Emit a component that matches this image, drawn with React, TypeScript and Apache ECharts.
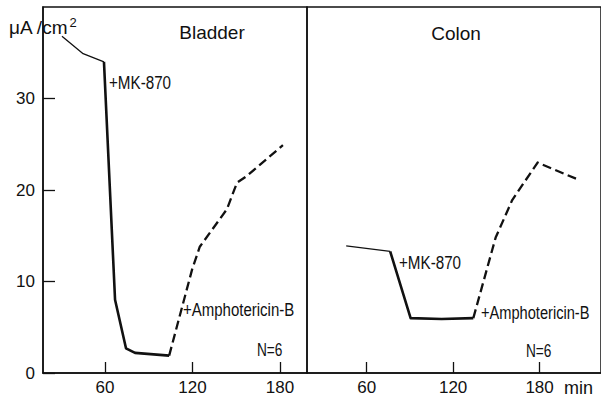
import React, { useEffect, useRef } from "react";
import * as echarts from "echarts";

// Bladder (left panel): [time min, µA/cm²]
const bladderBaseline = [[30.5, 36.8], [45, 34.9], [59.3, 34.0]];
const bladderMK870 = [[59.3, 34.0], [66.9, 8.0], [74.4, 2.7], [80.6, 2.2], [104, 1.9]];
const bladderAmphotericin = [[104, 1.9], [119.7, 11.3], [125, 13.8], [143.6, 17.9], [150.5, 20.8], [157, 21.5], [182, 24.9]];

// Colon (right panel)
const colonBaseline = [[45.8, 13.9], [76.3, 13.3]];
const colonMK870 = [[76.3, 13.3], [90.5, 6.0], [112, 5.9], [134, 6.0]];
const colonAmphotericin = [[134, 6.0], [149.5, 14.8], [161, 18.9], [178.6, 23.0], [205.8, 21.2]];

const xTickValues = [60, 120, 180];
const yTickValues = [0, 10, 20, 30];
const panelTitles = ["Bladder", "Colon"];

const INK = "#111";
const REG = "'Liberation Sans', Arial, sans-serif";

export default function App() {
  const ref = useRef<HTMLDivElement>(null);
  useEffect(() => {
    if (!ref.current) return;
    const chart = echarts.init(ref.current, null, { renderer: "svg" });
    const xAxisCommon = (min: number, max: number, gridIndex: number) => ({
      type: "value",
      gridIndex,
      min,
      max,
      axisLine: { show: true, lineStyle: { color: INK, width: 1.5 } },
      axisTick: { show: true, inside: true, length: 11, customValues: xTickValues, lineStyle: { color: INK, width: 1.3 } },
      axisLabel: { show: true, customValues: xTickValues, color: INK, fontSize: 17, fontFamily: REG, margin: 6 },
      splitLine: { show: false },
    });
    const lineSeries = (data: number[][], idx: number, width: number, dashed: boolean) => ({
      type: "line",
      xAxisIndex: idx,
      yAxisIndex: idx,
      data,
      symbol: "none",
      silent: true,
      lineStyle: { color: INK, width, type: dashed ? [9, 4.5] : "solid", cap: "butt", join: "round" },
    });
    const narrowText = (text: string, x: number, y: number, size: number, sx: number) => ({
      type: "text",
      x,
      y,
      scaleX: sx,
      style: { text, fill: INK, fontSize: size, fontFamily: REG, textVerticalAlign: "middle" },
    });
    chart.setOption({
      animation: false,
      backgroundColor: "#fff",
      grid: [
        { left: 43, top: 7, width: 264, height: 366, show: true, borderColor: INK, borderWidth: 1.5, backgroundColor: "transparent" },
        { left: 307, top: 7, width: 300, height: 366, show: true, borderColor: INK, borderWidth: 1.5, backgroundColor: "transparent" },
      ],
      xAxis: [xAxisCommon(17.5, 198.5, 0), xAxisCommon(18.6, 222.6, 1)],
      yAxis: [
        {
          type: "value",
          gridIndex: 0,
          min: 0,
          max: 40,
          axisLine: { show: true, lineStyle: { color: INK, width: 1.5 } },
          axisTick: { show: true, inside: true, length: 12, customValues: yTickValues, lineStyle: { color: INK, width: 1.3 } },
          axisLabel: { show: true, customValues: yTickValues, color: INK, fontSize: 17, fontFamily: REG, margin: 8 },
          splitLine: { show: false },
        },
        { type: "value", gridIndex: 1, min: 0, max: 40, show: false, splitLine: { show: false } },
      ],
      series: [
        lineSeries(bladderBaseline, 0, 1.3, false),
        lineSeries(bladderMK870, 0, 2.6, false),
        lineSeries(bladderAmphotericin, 0, 2.3, true),
        lineSeries(colonBaseline, 1, 1.3, false),
        lineSeries(colonMK870, 1, 2.6, false),
        lineSeries(colonAmphotericin, 1, 2.3, true),
      ],
      graphic: [
        {
          type: "text",
          x: 9,
          y: 27,
          style: {
            text: "{a|μA /cm}{s|2}",
            textVerticalAlign: "middle",
            rich: {
              a: { fontSize: 19, fontFamily: REG, fill: INK, color: INK },
              s: { fontSize: 13, fontFamily: REG, fill: INK, color: INK, verticalAlign: "top", padding: [0, 0, 10, 1] },
            },
          },
        },
        { type: "text", x: 212, y: 32, style: { text: panelTitles[0], fill: INK, fontSize: 19, fontFamily: REG, textAlign: "center", textVerticalAlign: "middle" } },
        { type: "text", x: 456, y: 33, style: { text: panelTitles[1], fill: INK, fontSize: 19, fontFamily: REG, textAlign: "center", textVerticalAlign: "middle" } },
        narrowText("+MK-870", 109, 82, 19, 0.8),
        narrowText("+Amphotericin-B", 183, 310, 19, 0.79),
        narrowText("N=6", 257, 350, 18, 0.76),
        narrowText("+MK-870", 399, 262, 19, 0.8),
        narrowText("+Amphotericin-B", 481, 313, 19, 0.77),
        narrowText("N=6", 526, 351, 18, 0.76),
        { type: "text", x: 564, y: 388, style: { text: "min", fill: INK, fontSize: 18, fontFamily: REG, textVerticalAlign: "middle" } },
      ],
    });
    return () => chart.dispose();
  }, []);
  return <div ref={ref} style={{ position: "absolute", left: 0, top: 0, width: 601, height: 399, background: "#fff" }} />;
}
